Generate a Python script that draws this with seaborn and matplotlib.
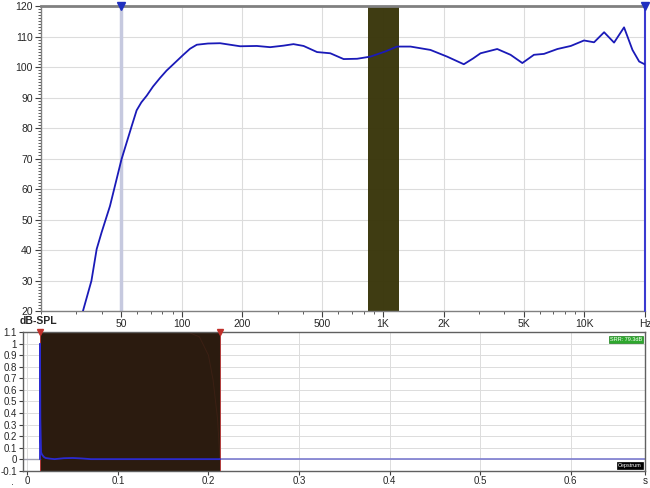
import matplotlib
matplotlib.use("Agg")
import matplotlib.pyplot as plt
import matplotlib.ticker as mticker
import seaborn as sns
import pandas as pd

# Frequency response (Hz, dB-SPL)
freq = [32, 35.6, 37.8, 40.0, 44.0, 50.2, 56.4, 59.7, 63.0, 67.0, 72.0, 78.0,
        84.0, 90.8, 101.8, 110.0, 118.8, 135, 155, 195, 236, 275, 320, 359,
        403, 470, 547, 637, 743, 865, 1027, 1174, 1368, 1719, 2081, 2518,
        2800, 3049, 3690, 4298, 4918, 5615, 6298, 7345, 8558, 9957, 11170,
        12530, 14040, 15740, 17330, 18710, 20200]
spl = [19.0, 29.9, 40.3, 45.8, 54.4, 69.7, 80.6, 85.8, 88.4, 90.6, 93.6, 96.4,
       98.8, 100.9, 104.0, 106.0, 107.3, 107.7, 107.8, 106.8, 106.9, 106.5,
       107.0, 107.5, 106.9, 104.9, 104.5, 102.6, 102.7, 103.4, 105.1, 106.7,
       106.7, 105.6, 103.4, 100.9, 102.8, 104.5, 105.9, 104.0, 101.3, 104.0,
       104.3, 105.9, 106.9, 108.7, 108.1, 111.4, 108.0, 113.0, 105.6, 101.8,
       100.7]

# impulse / cepstrum trace (seconds, value)
t_imp = [0.0138, 0.01385, 0.0142, 0.0150, 0.0160, 0.0180, 0.0200, 0.0250,
         0.0300, 0.0400, 0.0500, 0.0600, 0.0700, 0.1000, 0.2127]
v_imp = [0.0, 1.0, 0.35, 0.06, 0.04, 0.02, 0.01, 0.004, 0.0, 0.008, 0.01,
         0.006, 0.0, 0.0, 0.0]

# window tail (faint red line in the dark gate)
t_win = [0.178, 0.190, 0.200, 0.205, 0.210, 0.2127]
v_win = [1.10, 1.06, 0.90, 0.69, 0.35, 0.0]

band = (838, 1196)          # highlighted band in Hz
marker_f = (50, 20000)      # blue cursors
gate = (0.0138, 0.2127)     # red gate in seconds

freq_ticks = [50, 100, 200, 500, 1000, 2000, 5000, 10000, 20000]
freq_labels = ["50", "100", "200", "500", "1K", "2K", "5K", "10K", "Hz"]
time_ticks = [0, 0.1, 0.2, 0.3, 0.4, 0.5, 0.6, 0.682]
time_labels = ["0", "0.1", "0.2", "0.3", "0.4", "0.5", "0.6", "s"]
amp_labels = ["-0.1", "0", "0.1", "0.2", "0.3", "0.4", "0.5", "0.6",
              "0.7", "0.8", "0.9", "1", "1.1"]

df_fr = pd.DataFrame({"f": freq, "spl": spl})
df_imp = pd.DataFrame({"t": t_imp, "v": v_imp})
df_win = pd.DataFrame({"t": t_win, "v": v_win})

sns.set_theme(style="white")
plt.rcParams["font.family"] = ["Liberation Sans", "DejaVu Sans"]
plt.rcParams["font.size"] = 7.5

fig = plt.figure(figsize=(6.5, 4.88), dpi=100)
ax1 = fig.add_axes([0.0631, 0.3627, 0.9292, 0.625])
ax2 = fig.add_axes([0.0349, 0.0355, 0.9574, 0.2836])

grid_c = "#dcdcdc"
spine_c = "#808080"

# ---------- top: frequency response ----------
ax1.set_xscale("log")
ax1.set_xlim(20, 20000)
ax1.set_ylim(20, 120)
ax1.set_axisbelow(True)
ax1.grid(True, color=grid_c, lw=0.8)
ax1.axvspan(band[0], band[1], color="#373408", alpha=0.96, zorder=0.6, lw=0)
ax1.axvline(marker_f[0], color="#c6c9df", lw=2.5, zorder=1)
ax1.axvline(marker_f[1], color="#3a3ad0", lw=1.5, zorder=3, clip_on=False)
sns.lineplot(data=df_fr, x="f", y="spl", ax=ax1, color="#1a1ab8", lw=1.3,
             zorder=4, estimator=None, sort=False)
for f in marker_f:
    ax1.plot([f], [120], marker="v", color="#2030c0", ms=6, clip_on=False,
             zorder=6)

ax1.set_xticks(freq_ticks)
ax1.set_xticklabels(freq_labels)
ax1.xaxis.set_minor_locator(mticker.LogLocator(base=10, subs=range(1, 10)))
ax1.xaxis.set_minor_formatter(mticker.NullFormatter())
ax1.set_yticks(range(20, 121, 10))
ax1.yaxis.set_minor_locator(mticker.MultipleLocator(1))
ax1.tick_params(axis="both", which="major", length=4, width=0.8,
                color="#404040", labelsize=7.5, pad=2, direction="out",
                bottom=True, left=True)
ax1.tick_params(axis="both", which="minor", length=2, width=0.6,
                color="#404040", bottom=True, left=True)
ax1.set_xlabel("")
ax1.set_ylabel("")
for s in ["left", "bottom"]:
    ax1.spines[s].set_color(spine_c)
    ax1.spines[s].set_linewidth(1.0)
ax1.spines["top"].set_color(spine_c)
ax1.spines["top"].set_linewidth(2.0)
ax1.spines["right"].set_visible(False)

fig.text(20 / 650, 1 - 321 / 488, "dB-SPL", fontsize=7.5, fontweight="bold",
         va="center", ha="left")

# ---------- bottom: impulse / cepstrum ----------
ax2.set_xlim(-0.0053, 0.6823)
ax2.set_ylim(-0.1, 1.1)
ax2.set_axisbelow(True)
ax2.grid(True, color=grid_c, lw=0.7)
ax2.axvspan(gate[0], gate[1], color="#2b1b0f", zorder=0.6, lw=0)
ax2.set_xticks(time_ticks)
ax2.set_xticklabels(time_labels)
ax2.set_yticks([round(-0.1 + 0.1 * i, 1) for i in range(13)])
ax2.set_yticklabels(amp_labels)
ax2.plot([-0.0053, gate[0]], [0, 0], color="#a0a0b0", lw=1.0, zorder=1)
ax2.plot([gate[1], 0.6823], [0, 0], color="#7c7cd0", lw=1.2, zorder=1)
sns.lineplot(data=df_win, x="t", y="v", ax=ax2, color="#3c2014", lw=0.7,
             zorder=2, estimator=None, sort=False)
sns.lineplot(data=df_imp, x="t", y="v", ax=ax2, color="#2a2ad0", lw=1.3,
             zorder=4, estimator=None, sort=False)
for g in gate:
    ax2.axvline(g, color="#b03a3a", lw=0.7, zorder=3)
    ax2.plot([g], [1.1], marker="v", color="#c0302a", ms=5, clip_on=False,
             zorder=6)
ax2.tick_params(axis="both", which="major", length=3, width=0.8,
                color="#404040", labelsize=7, pad=1, direction="out",
                bottom=True, left=True)
ax2.set_xlabel("")
ax2.set_ylabel("")
for s in ["left", "bottom", "top", "right"]:
    ax2.spines[s].set_color("#606060")
    ax2.spines[s].set_linewidth(1.0)

ax2.text(0.995, 0.965, "SRR: 79.3dB", transform=ax2.transAxes, fontsize=4,
         color="white", ha="right", va="top",
         bbox=dict(boxstyle="square,pad=0.2", fc="#2ea82e", ec="#1e801e",
                   lw=0.5))
ax2.text(0.995, 0.02, "Cepstrum", transform=ax2.transAxes, fontsize=4,
         color="white", ha="right", va="bottom",
         bbox=dict(boxstyle="square,pad=0.2", fc="black", ec="black", lw=0.5))
fig.text(12 / 650, 1 - 482 / 488, ".", fontsize=7.5, ha="center",
         va="center")

fig.savefig("out.png", dpi=100)
